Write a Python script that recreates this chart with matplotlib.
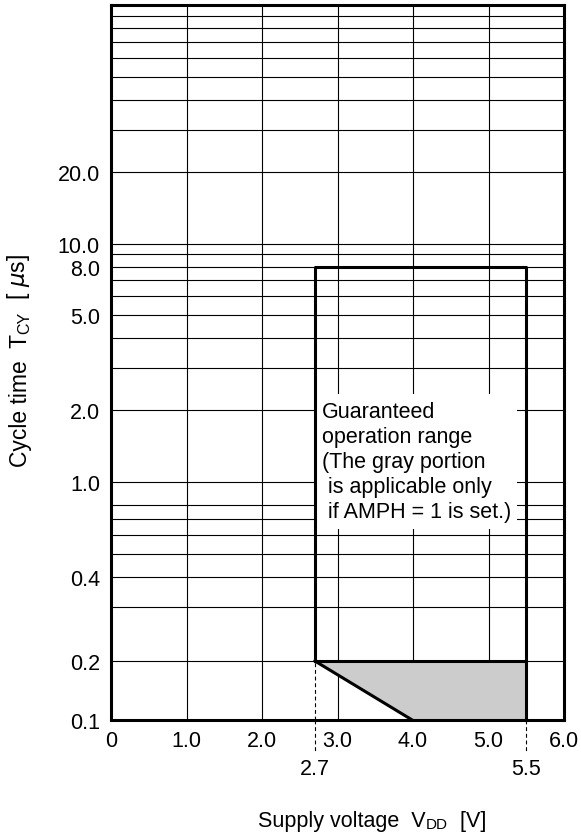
import numpy as np
import matplotlib
matplotlib.use('Agg')
from matplotlib import pyplot as plt
from matplotlib.transforms import blended_transform_factory

plt.rcParams['font.family'] = ['Liberation Sans', 'DejaVu Sans']
plt.rcParams['mathtext.fontset'] = 'dejavusans'

# operating range outline (VDD [V], TCY [us])
vdd_outline = [2.7, 2.7, 5.5, 5.5]
tcy_outline = [0.2, 8.0, 8.0, 0.1]
vdd_amph = [2.7, 5.5]
tcy_amph = [0.2, 0.2]
vdd_slope = [2.7, 4.0]
tcy_slope = [0.2, 0.1]
# gray portion (AMPH = 1 only)
vdd_gray = [2.7, 5.5, 5.5, 4.0]
tcy_gray = [0.2, 0.2, 0.1, 0.1]

x_ticks = [0, 1, 2, 3, 4, 5, 6]
x_labels = ['0', '1.0', '2.0', '3.0', '4.0', '5.0', '6.0']
x_marks = [2.7, 5.5]
x_mark_labels = ['2.7', '5.5']
y_ticks = [0.1, 0.2, 0.4, 1.0, 2.0, 5.0, 8.0, 10.0, 20.0]
y_labels = ['0.1', '0.2', '0.4', '1.0', '2.0', '5.0', '8.0', '10.0', '20.0']
y_grid = [0.3, 0.5, 0.6, 0.7, 0.8, 3, 4, 6, 7, 9, 30, 40, 50, 60, 70, 80, 90]

note = ('Guaranteed\noperation range\n(The gray portion\n'
        ' is applicable only\n if AMPH = 1 is set.)')

FS = 15.5
FS_SMALL = 11

# the sheet's axis is log, except the 0.2 line sits a bit lower
knot_val = np.log10([0.1, 0.2, 0.3, 100.0])
knot_pos = np.array([-1.0, -0.7505, np.log10(0.3), 2.0])


def fwd(y):
    y = np.asarray(y, dtype=float)
    ly = np.log10(np.where(y > 0, y, 1e-30))
    p = np.interp(ly, knot_val, knot_pos)
    p = np.where(ly < knot_val[0], ly, p)
    return np.where(ly > knot_val[-1], ly, p)


def inv(p):
    p = np.asarray(p, dtype=float)
    ly = np.interp(p, knot_pos, knot_val)
    ly = np.where(p < knot_pos[0], p, ly)
    ly = np.where(p > knot_pos[-1], p, ly)
    return 10 ** ly


fig = plt.figure(figsize=(5.81, 8.37), dpi=100)
ax = fig.add_axes([0.1911, 0.1380, 0.7797, 0.8548])
ax.set_yscale('function', functions=(fwd, inv))
ax.set_xlim(0, 6)
ax.set_ylim(0.1, 100)

ax.set_xticks(x_ticks, x_labels)
ax.set_xticks(x_marks, x_mark_labels, minor=True)
ax.set_yticks(y_ticks, y_labels)
ax.set_yticks(y_grid, minor=True)
ax.tick_params(which='both', length=0, labelsize=FS, colors='black')
ax.tick_params(axis='y', which='major', pad=8)
ax.tick_params(axis='x', which='major', pad=7)
ax.tick_params(axis='x', which='minor', pad=27)

ax.set_axisbelow(True)
ax.grid(True, axis='y', which='both', color='black', lw=0.8)
ax.grid(True, axis='x', which='major', color='black', lw=0.8)
for s in ax.spines.values():
    s.set_linewidth(2.2)
    s.set_zorder(5)

ax.fill(vdd_gray, tcy_gray, color='#cccccc', lw=0, zorder=1.5)
ax.plot(vdd_outline, tcy_outline, color='black', lw=2.2, zorder=4)
ax.plot(vdd_amph, tcy_amph, color='black', lw=2.2, zorder=4)
ax.plot(vdd_slope, tcy_slope, color='black', lw=2.2, zorder=4)

# dashed drop lines down to the 2.7 / 5.5 marks
trans = blended_transform_factory(ax.transData, ax.transAxes)
ax.plot([2.7, 2.7], [0.1, 0.2], color='black', lw=0.8, ls=(0, (3.5, 2.5)), zorder=3)
for xv in x_marks:
    ax.plot([xv, xv], [0, -0.044], transform=trans, clip_on=False,
            color='black', lw=0.8, ls=(0, (3.5, 2.5)))

ax.text(2.79, 1.22, note, ha='left', va='center', fontsize=FS, linespacing=1.26,
        bbox=dict(boxstyle='square,pad=0.3', fc='white', ec='none'), zorder=2)

# axis labels with small-size suffixes
t1 = ax.text(0.3245, -0.1468, 'Supply voltage  V', transform=ax.transAxes,
             ha='left', va='baseline', fontsize=FS)
t2 = ax.annotate('DD', xy=(1, 0), xycoords=t1, ha='left', va='bottom', fontsize=FS_SMALL)
ax.annotate('  [V]', xy=(1, 0), xycoords=t2, ha='left', va='bottom', fontsize=FS)

s1 = ax.text(-0.174, 0.356, 'Cycle time  T', transform=ax.transAxes, rotation=90,
             ha='right', va='bottom', fontsize=16.5)
s2 = ax.annotate('CY', xy=(1, 1), xycoords=s1, rotation=90, ha='right', va='bottom',
                 fontsize=11.5)
ax.annotate('  [ $\\mu$s]', xy=(1, 1), xycoords=s2, rotation=90, ha='right',
            va='bottom', fontsize=16.5)

fig.savefig('out.png', dpi=100)
